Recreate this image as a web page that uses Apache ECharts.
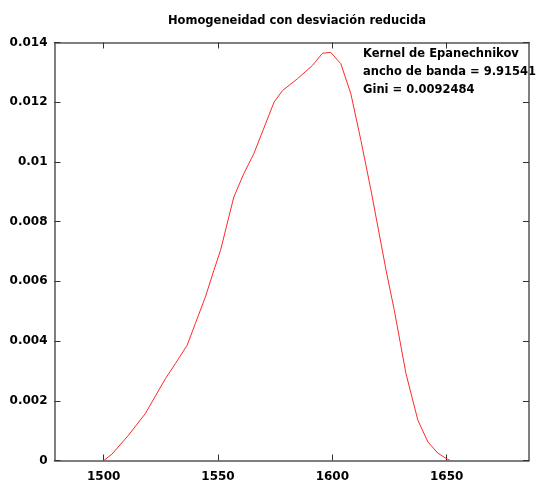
<!DOCTYPE html>
<html>
<head>
<meta charset="utf-8">
<script src="https://cdn.jsdelivr.net/npm/echarts@6/dist/echarts.min.js"></script>
<style>html,body{margin:0;padding:0;background:#fff;}#c{width:536px;height:487px;}</style>
</head>
<body>
<div id="c"></div>
<script>
const titleText = "Homogeneidad con desviación reducida";
const annotationLines = ["Kernel de Epanechnikov", "ancho de banda = 9.91541", "Gini = 0.0092484"];
const xTicks = [1500, 1550, 1600, 1650];
const xValues = [1500, 1503.6, 1510.9, 1518.2, 1527.0, 1531.4, 1536.5, 1540.1, 1544.5, 1548.2, 1551.1, 1556.9, 1561.3, 1565.7, 1574.5, 1578.2, 1584.8, 1591.3, 1595.7, 1599.3, 1603.7, 1608.1, 1612.5, 1616.9, 1623.5, 1627.1, 1632.2, 1637.4, 1641.8, 1646.1, 1649.7, 1651.5];
const yValues = [0, 0.00021, 0.00085, 0.00157, 0.00274, 0.00325, 0.00386, 0.00459, 0.00548, 0.00637, 0.00704, 0.00882, 0.00961, 0.01028, 0.01200, 0.01239, 0.01279, 0.01323, 0.01364, 0.01367, 0.01329, 0.01228, 0.01072, 0.00905, 0.00637, 0.00503, 0.00291, 0.00135, 0.00062, 0.00025, 0.00007, 0];

const FONT = "DejaVu Sans";
const chart = echarts.init(document.getElementById('c'), null, {renderer: 'canvas'});
const axisLineStyle = {color: '#555', width: 1.5};
const tickStyle = {color: '#333', width: 1};
const labelStyle = {color: '#000', fontFamily: FONT, fontWeight: 'bold', fontSize: 12};
chart.setOption({
  animation: false,
  backgroundColor: '#fff',
  title: {
    text: titleText, left: 292, top: 10, textAlign: 'center',
    textStyle: {fontFamily: FONT, fontWeight: 'bold', fontSize: 11.5, color: '#000'}
  },
  grid: {left: 54.5, right: 7, top: 42.5, bottom: 26.5, containLabel: false},
  xAxis: [{
    type: 'value', min: 1478.5, max: 1686, position: 'bottom',
    axisLine: {show: true, onZero: false, lineStyle: axisLineStyle},
    axisTick: {show: true, inside: true, length: 6, lineStyle: tickStyle, customValues: xTicks},
    axisLabel: Object.assign({margin: 10, customValues: xTicks, formatter: v => String(Math.round(v))}, labelStyle),
    splitLine: {show: false}
  }, {
    type: 'value', min: 1478.5, max: 1686, position: 'top',
    axisLine: {show: true, onZero: false, lineStyle: axisLineStyle},
    axisTick: {show: true, inside: true, length: 6, lineStyle: tickStyle, customValues: xTicks},
    axisLabel: {show: false},
    splitLine: {show: false}
  }],
  yAxis: [{
    type: 'value', min: 0, max: 0.014, interval: 0.002, position: 'left',
    axisLine: {show: true, onZero: false, lineStyle: axisLineStyle},
    axisTick: {show: true, inside: true, length: 6, lineStyle: tickStyle},
    axisLabel: Object.assign({margin: 7, formatter: v => String(parseFloat(v.toFixed(3)))}, labelStyle),
    splitLine: {show: false}
  }, {
    type: 'value', min: 0, max: 0.014, interval: 0.002, position: 'right',
    axisLine: {show: true, onZero: false, lineStyle: axisLineStyle},
    axisTick: {show: true, inside: true, length: 6, lineStyle: tickStyle},
    axisLabel: {show: false},
    splitLine: {show: false}
  }],
  graphic: annotationLines.map((t, i) => ({
    type: 'text', left: 363, top: 48 + i * 18,
    style: {text: t, fill: '#000', font: 'bold 11.5px "' + FONT + '"'}
  })),
  series: [{
    type: 'line', xAxisIndex: 0, yAxisIndex: 0,
    data: xValues.map((x, i) => [x, yValues[i]]),
    showSymbol: false, smooth: false,
    lineStyle: {color: '#ff2a2a', width: 1}
  }]
});
</script>
</body>
</html>
